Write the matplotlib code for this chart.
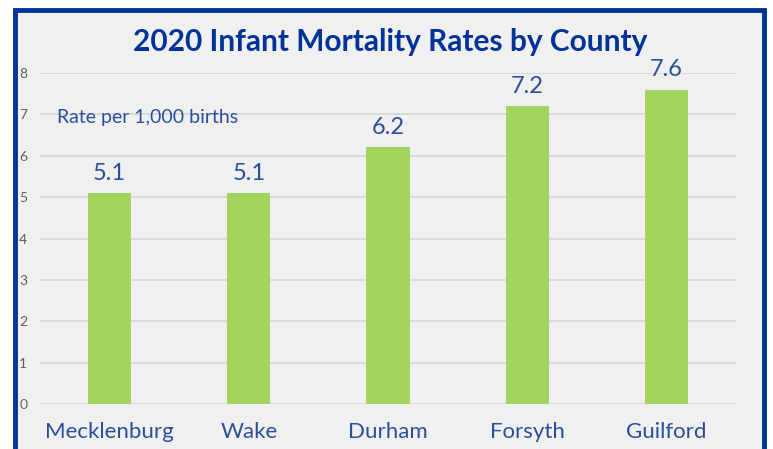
import matplotlib.pyplot as plt
from matplotlib.patches import Rectangle

counties = ["Mecklenburg", "Wake", "Durham", "Forsyth", "Guilford"]
rates = [5.1, 5.1, 6.2, 7.2, 7.6]
yticks = [0, 1, 2, 3, 4, 5, 6, 7, 8]

BLUE = "#003399"
TEXT_BLUE = "#2a4f9e"
GREEN = "#a3d45e"
BG = "#f0f0f0"

plt.rcParams["font.family"] = ["Lato", "DejaVu Sans"]

fig = plt.figure(figsize=(7.73, 4.49), dpi=100)
fig.patch.set_facecolor("white")

W, H = 773, 449
# panel with blue frame, runs off the bottom of the picture
frame = Rectangle((15 / W, -0.05), (764 - 15) / W, 1.05 - 10 / H,
                  transform=fig.transFigure, facecolor=BG, edgecolor=BLUE,
                  linewidth=3.5, zorder=-1)
fig.patches.append(frame)

ax = fig.add_axes([40 / W, 1 - 404 / H, (736 - 40) / W, (404 - 73) / H])
ax.set_zorder(1)
ax.set_facecolor("none")
x = range(len(counties))
ax.bar(x, rates, width=0.31, color=GREEN, zorder=3)
for xi, r in zip(x, rates):
    ax.text(xi, r + 0.22, f"{r}", ha="center", va="bottom", fontsize=17,
            color=TEXT_BLUE)

ax.set_xlim(-0.5, 4.5)
ax.set_ylim(0, 8)
ax.set_yticks(yticks)
ax.set_yticklabels([str(t) for t in yticks], fontsize=10, color="#606060")
ax.tick_params(axis="y", length=0, pad=15)
for lbl in ax.get_yticklabels():
    lbl.set_horizontalalignment("left")
ax.set_xticks(list(x))
ax.set_xticklabels(counties, fontsize=16, color=TEXT_BLUE)
ax.tick_params(axis="x", length=0, pad=13)
ax.grid(axis="y", color="#d6d6d6", linewidth=1.2, zorder=0)
for sp in ax.spines.values():
    sp.set_visible(False)

fig.text(57 / W, 1 - 118 / H, "Rate per 1,000 births",
         fontsize=14, color=TEXT_BLUE, va="center", ha="left", zorder=5)
fig.text(390 / W, 1 - 42 / H, "2020 Infant Mortality Rates by County",
         ha="center", va="center", fontsize=21.5, fontweight="bold", color=BLUE)

fig.savefig("out.png", dpi=100, facecolor="white")
